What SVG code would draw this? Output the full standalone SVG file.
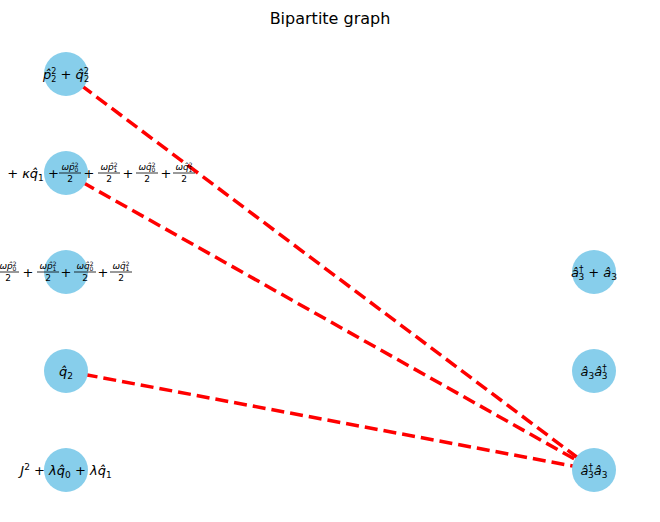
<svg xmlns="http://www.w3.org/2000/svg" width="660" height="522" viewBox="0 0 660 522">
<style>
.n{fill:#87ceeb}
.t{font-family:"DejaVu Sans",sans-serif;font-size:13px;fill:#000;text-anchor:middle}
.i{font-style:italic}
.f{font-family:"DejaVu Sans",sans-serif;font-size:9px;fill:#000;text-anchor:middle}
.fl{stroke:#000;stroke-width:0.8}
.e{stroke:#ff0000;stroke-width:3.5;stroke-dasharray:13,6;fill:none}
</style>
<rect width="660" height="522" fill="#fff"/>
<text x="330" y="24" font-family="DejaVu Sans,sans-serif" font-size="16" text-anchor="middle">Bipartite graph</text>
<g id="edges">
<line class="e" x1="66" y1="74" x2="594" y2="470"/>
<line class="e" x1="66" y1="173" x2="594" y2="470"/>
<line class="e" x1="66" y1="371" x2="594" y2="470"/>
</g>
<g id="n0"><circle class="n" cx="66" cy="74" r="22"/><text class="t" x="66" y="79"><tspan class="i">p̂</tspan><tspan font-size="8" dy="-5">2</tspan><tspan font-size="8" dx="-5" dy="8">2</tspan><tspan dy="-3"> + </tspan><tspan class="i">q̂</tspan><tspan font-size="8" dy="-5">2</tspan><tspan font-size="8" dx="-5" dy="8">2</tspan></text></g>
<g id="n1"><circle class="n" cx="66" cy="173" r="22"/>
<text class="t" x="33" y="178">+ <tspan class="i">κq̂</tspan><tspan font-size="9" dy="3">1</tspan><tspan dy="-3"> +</tspan></text>
<g transform="translate(70,173)"><text class="f" y="-3"><tspan class="i">ωp̂</tspan><tspan font-size="6" dy="-3">2</tspan><tspan font-size="6" dx="-4" dy="5">0</tspan></text><line class="fl" x1="-11" x2="11" y1="0" y2="0"/><text class="f" y="9">2</text></g>
<text class="t" x="89" y="178">+</text>
<g transform="translate(109,173)"><text class="f" y="-3"><tspan class="i">ωp̂</tspan><tspan font-size="6" dy="-3">2</tspan><tspan font-size="6" dx="-4" dy="5">1</tspan></text><line class="fl" x1="-11" x2="11" y1="0" y2="0"/><text class="f" y="9">2</text></g>
<text class="t" x="128" y="178">+</text>
<g transform="translate(147,173)"><text class="f" y="-3"><tspan class="i">ωq̂</tspan><tspan font-size="6" dy="-3">2</tspan><tspan font-size="6" dx="-4" dy="5">0</tspan></text><line class="fl" x1="-11" x2="11" y1="0" y2="0"/><text class="f" y="9">2</text></g>
<text class="t" x="166" y="178">+</text>
<g transform="translate(184,173)"><text class="f" y="-3"><tspan class="i">ωq̂</tspan><tspan font-size="6" dy="-3">2</tspan><tspan font-size="6" dx="-4" dy="5">1</tspan></text><line class="fl" x1="-11" x2="11" y1="0" y2="0"/><text class="f" y="9">2</text></g>
</g>
<g id="n2"><circle class="n" cx="66" cy="272" r="22"/>
<g transform="translate(8,272)"><text class="f" y="-3"><tspan class="i">ωp̂</tspan><tspan font-size="6" dy="-3">2</tspan><tspan font-size="6" dx="-4" dy="5">0</tspan></text><line class="fl" x1="-11" x2="11" y1="0" y2="0"/><text class="f" y="9">2</text></g>
<text class="t" x="28" y="277">+</text>
<g transform="translate(48,272)"><text class="f" y="-3"><tspan class="i">ωp̂</tspan><tspan font-size="6" dy="-3">2</tspan><tspan font-size="6" dx="-4" dy="5">1</tspan></text><line class="fl" x1="-11" x2="11" y1="0" y2="0"/><text class="f" y="9">2</text></g>
<text class="t" x="66" y="277">+</text>
<g transform="translate(85,272)"><text class="f" y="-3"><tspan class="i">ωq̂</tspan><tspan font-size="6" dy="-3">2</tspan><tspan font-size="6" dx="-4" dy="5">0</tspan></text><line class="fl" x1="-11" x2="11" y1="0" y2="0"/><text class="f" y="9">2</text></g>
<text class="t" x="103" y="277">+</text>
<g transform="translate(121,272)"><text class="f" y="-3"><tspan class="i">ωq̂</tspan><tspan font-size="6" dy="-3">2</tspan><tspan font-size="6" dx="-4" dy="5">1</tspan></text><line class="fl" x1="-11" x2="11" y1="0" y2="0"/><text class="f" y="9">2</text></g>
</g>
<g id="n3"><circle class="n" cx="66" cy="371" r="22"/><text class="t" x="66" y="376"><tspan class="i">q̂</tspan><tspan font-size="9" dy="3">2</tspan></text></g>
<g id="n4"><circle class="n" cx="66" cy="470" r="22"/><text class="t" x="66" y="475"><tspan class="i">J</tspan><tspan font-size="9" dy="-5">2</tspan><tspan dy="5"> + </tspan><tspan class="i">λq̂</tspan><tspan font-size="9" dy="3">0</tspan><tspan dy="-3"> + </tspan><tspan class="i">λq̂</tspan><tspan font-size="9" dy="3">1</tspan></text></g>
<g id="r0"><circle class="n" cx="594" cy="272" r="22"/><text class="t" x="594" y="277"><tspan class="i">â</tspan><tspan font-size="9" dy="-5">†</tspan><tspan font-size="9" dx="-5" dy="8">3</tspan><tspan dy="-3"> + </tspan><tspan class="i">â</tspan><tspan font-size="9" dy="3">3</tspan></text></g>
<g id="r1"><circle class="n" cx="594" cy="371" r="22"/><text class="t" x="594" y="376"><tspan class="i">â</tspan><tspan font-size="9" dy="3">3</tspan><tspan class="i" dy="-3">â</tspan><tspan font-size="9" dy="-5">†</tspan><tspan font-size="9" dx="-5" dy="8">3</tspan></text></g>
<g id="r2"><circle class="n" cx="594" cy="470" r="22"/><text class="t" x="594" y="475"><tspan class="i">â</tspan><tspan font-size="9" dy="-5">†</tspan><tspan font-size="9" dx="-5" dy="8">3</tspan><tspan class="i" dy="-3">â</tspan><tspan font-size="9" dy="3">3</tspan></text></g>
</svg>
